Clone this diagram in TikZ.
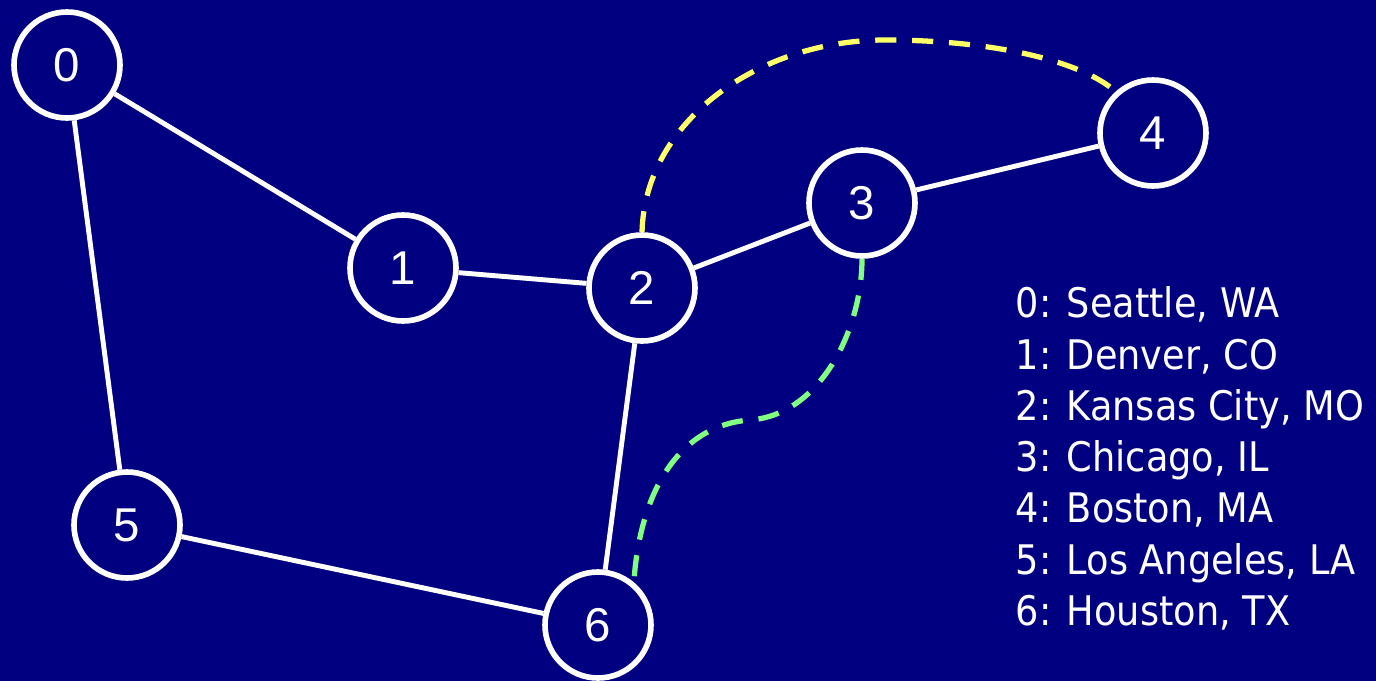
\documentclass[tikz,border=0pt]{standalone}
\usepackage{fontspec}
\setmainfont{Liberation Sans}
\newfontfamily\legendfont{DejaVu Sans Condensed}
\definecolor{bgnavy}{RGB}{0,0,128}
\definecolor{dashyellow}{RGB}{255,255,102}
\definecolor{dashgreen}{RGB}{128,255,128}
\tikzset{
  city/.style={circle,draw=white,line width=1.6pt,minimum size=1.06cm,inner sep=0pt,text=white,font=\fontsize{13.5}{15}\selectfont},
  road/.style={draw=white,line width=1.4pt},
  dashroute/.style={line width=1.5pt,dash pattern=on 6pt off 4.5pt}
}
\begin{document}
\begin{tikzpicture}
\fill[bgnavy] (0,0) rectangle (13.76,-6.81);
\useasboundingbox (0,0) rectangle (13.76,-6.81);
\node[city] (n0) at (0.67,-0.65) {0};
\node[city] (n1) at (4.03,-2.68) {1};
\node[city] (n2) at (6.42,-2.88) {2};
\node[city] (n3) at (8.62,-2.03) {3};
\node[city] (n4) at (11.53,-1.33) {4};
\node[city] (n5) at (1.27,-5.25) {5};
\node[city] (n6) at (5.98,-6.25) {6};
\draw[road] (n0) -- (n1);
\draw[road] (n0) -- (n5);
\draw[road] (n1) -- (n2);
\draw[road] (n2) -- (n3);
\draw[road] (n3) -- (n4);
\draw[road] (n2) -- (n6);
\draw[road] (n5) -- (n6);
\draw[dashroute,dashyellow] (n2.90) .. controls (6.45,-1.20) and (7.60,-0.40) .. (8.85,-0.40) .. controls (9.90,-0.40) and (10.80,-0.60) .. (n4.132);
\draw[dashroute,dashgreen] (n3.270) .. controls (8.62,-3.30) and (8.20,-4.15) .. (7.50,-4.20) .. controls (6.80,-4.25) and (6.40,-4.90) .. (n6.50);
\node[anchor=north west,align=left,text=white,inner sep=0pt,font=\legendfont\fontsize{11.6}{14.6}\selectfont] (legend) at (10.15,-2.86) {0: Seattle, WA\\1: Denver, CO\\2: Kansas City, MO\\3: Chicago, IL\\4: Boston, MA\\5: Los Angeles, LA\\6: Houston, TX};
\end{tikzpicture}
\end{document}
